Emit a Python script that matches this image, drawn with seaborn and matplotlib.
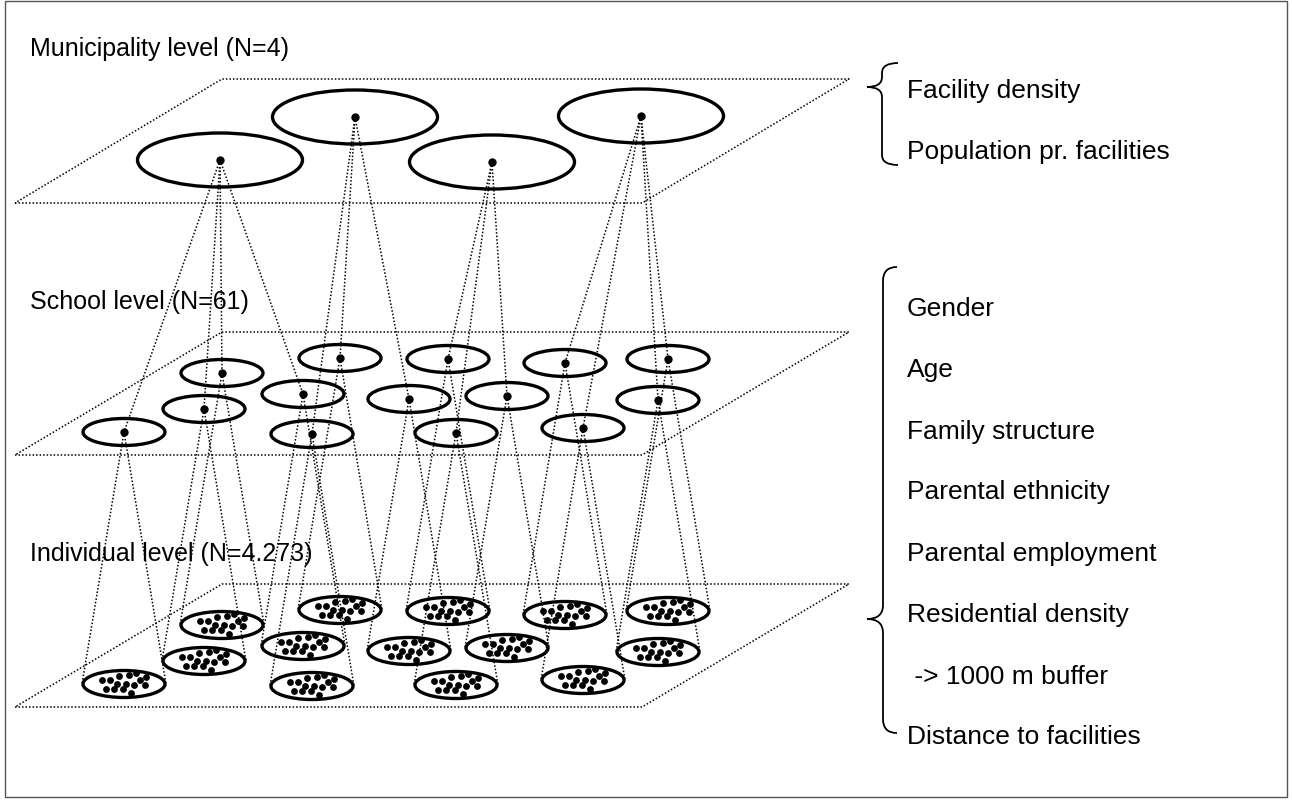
import numpy as np
import pandas as pd
import seaborn as sns
import matplotlib.pyplot as plt
from matplotlib.patches import Ellipse, Rectangle, PathPatch
from matplotlib.path import Path

# --- Daten (Pixelkoordinaten des Diagramms) ---
level_titles = ["Municipality level (N=4)", "School level (N=61)", "Individual level (N=4.273)"]
title_y = [56, 309, 561]

# Ebenen (Parallelogramme): obere / untere Kante
plane_top = [79, 332, 584]
plane_bottom = [203, 455, 707]

# Gemeinden
muni_x = [220, 355, 492, 641]
muni_y = [160, 117, 162, 116]

# Schulen + Zuordnung zur Gemeinde
school_x = [124, 204, 222, 303, 340, 312, 409, 448, 507, 456, 565, 583, 668, 658]
school_y = [432, 409, 373, 394, 358, 434, 399, 359, 396, 433, 363, 428, 359, 400]
school_muni = [0, 0, 0, 0, 1, 1, 1, 2, 2, 2, 3, 3, 3, 3]
ind_shift = 252  # Individuen-Ebene liegt direkt unter der Schul-Ebene

# Punktmuster innerhalb einer Individuen-Ellipse
pat_dx = [-22, -14, -5, 5, 12, 22, -7, 2, 10, 16, 21, -18, -10, -1, 7]
pat_dy = [-4, -4, -8, -9, -11, -7, 0, 0, 1, -4, 1, 5, 5, 5, 9]

muni_vars = ["Facility density", "Population pr. facilities"]
muni_vars_y = [98, 159]
ind_vars = ["Gender", "Age", "Family structure", "Parental ethnicity",
            "Parental employment", "Residential density", " -> 1000 m buffer",
            "Distance to facilities"]
ind_vars_y = [316, 377, 439, 499, 561, 622, 684, 744]

sns.set_theme(style="white")
plt.rcParams['font.family'] = ['Liberation Sans', 'DejaVu Sans']

fig = plt.figure(figsize=(12.92, 8.01), dpi=100)
ax = fig.add_axes([0, 0, 1, 1])

DOT = dict(color='black', lw=1.1, linestyle=(0, (1, 1.3)))

# Rahmen
ax.add_patch(Rectangle((5, 1), 1282, 796, fill=False, ec='#555555', lw=1.0))

# Ebenen
for top, bot in zip(plane_top, plane_bottom):
    xs = [15, 642, 849, 222, 15]
    ys = [bot, bot, top, top, bot]
    ax.plot(xs, ys, **DOT)

# Ellipsen
for x, y in zip(muni_x, muni_y):
    ax.add_patch(Ellipse((x, y), 165, 54, fill=False, ec='black', lw=2.4))
for x, y in zip(school_x, school_y):
    ax.add_patch(Ellipse((x, y), 82, 27, fill=False, ec='black', lw=2.4))
    ax.add_patch(Ellipse((x, y + ind_shift), 82, 27, fill=False, ec='black', lw=2.4))

# Verbindungslinien
for sx, sy, m in zip(school_x, school_y, school_muni):
    ax.plot([muni_x[m], sx], [muni_y[m], sy], **DOT)
    ax.plot([sx, sx - 42], [sy, sy + ind_shift], **DOT)
    ax.plot([sx, sx + 42], [sy, sy + ind_shift], **DOT)

# Punkte
centers = pd.DataFrame({"x": muni_x + school_x, "y": muni_y + school_y})
sns.scatterplot(data=centers, x="x", y="y", ax=ax, color='black', s=36,
                linewidth=0, legend=False, zorder=5)

ind_pts = pd.DataFrame({
    "x": [sx + dx for sx in school_x for dx in pat_dx],
    "y": [sy + ind_shift + dy for sy in school_y for dy in pat_dy],
})
sns.scatterplot(data=ind_pts, x="x", y="y", ax=ax, color='black', s=24,
                linewidth=0, legend=False, zorder=5)


def brace(x_tip, x_line, x_end, y_top, y_tip, y_bot, r):
    verts = [(x_end, y_top), (x_line, y_top), (x_line, y_top + r),
             (x_line, y_tip - r), (x_line, y_tip), (x_tip, y_tip),
             (x_line, y_tip), (x_line, y_tip + r),
             (x_line, y_bot - r), (x_line, y_bot), (x_end, y_bot)]
    codes = [Path.MOVETO, Path.CURVE3, Path.CURVE3,
             Path.LINETO, Path.CURVE3, Path.CURVE3,
             Path.CURVE3, Path.CURVE3,
             Path.LINETO, Path.CURVE3, Path.CURVE3]
    ax.add_patch(PathPatch(Path(verts, codes), fill=False, ec='black', lw=1.3))


brace(867, 882, 898, 63, 87, 165, 10)
brace(867, 883, 897, 267, 619, 733, 14)

# Texte
for t, y in zip(level_titles, title_y):
    ax.text(30, y, t, fontsize=18, color='black', va='baseline', ha='left')
for t, y in zip(muni_vars, muni_vars_y):
    ax.text(907, y, t, fontsize=19, color='black', va='baseline', ha='left')
for t, y in zip(ind_vars, ind_vars_y):
    ax.text(907, y, t, fontsize=19, color='black', va='baseline', ha='left')

ax.set_xlim(0, 1292)
ax.set_ylim(801, 0)
ax.axis('off')

fig.savefig("out.png", dpi=100)
